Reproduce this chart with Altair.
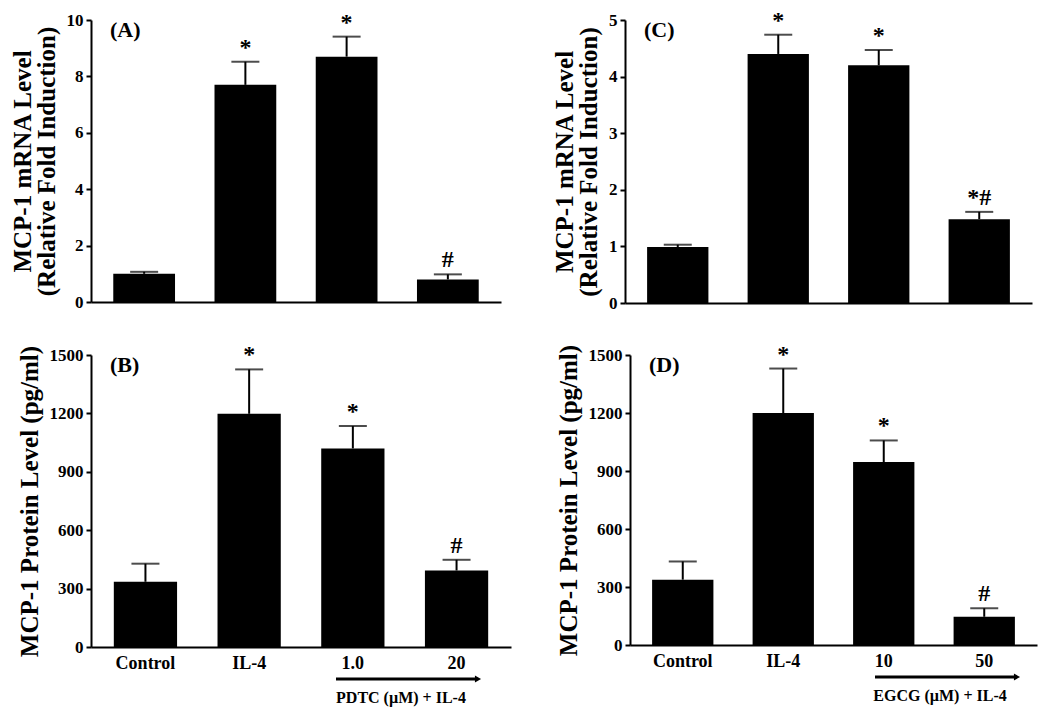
import altair as alt
import pandas as pd

FONT = "Liberation Serif"

# ---- data ----
cats_top = ["Control", "IL-4", "1.0", "20"]
cats_pdtc = ["Control", "IL-4", "1.0", "20"]
cats_egcg = ["Control", "IL-4", "10", "50"]

a_vals = [1.0, 7.7, 8.7, 0.8]
a_errs = [1.07, 8.52, 9.41, 0.98]
a_sig = ["", "*", "*", "#"]

c_vals = [0.99, 4.40, 4.20, 1.48]
c_errs = [1.03, 4.74, 4.47, 1.61]
c_sig = ["", "*", "*", "*#"]

b_vals = [335, 1198, 1020, 393]
b_errs = [428, 1426, 1135, 448]
b_sig = ["", "*", "*", "#"]

d_vals = [338, 1200, 946, 146]
d_errs = [432, 1430, 1058, 190]
d_sig = ["", "*", "*", "#"]

mrna_title = ["MCP-1 mRNA Level", "(Relative Fold Induction)"]
protein_title = "MCP-1 Protein Level (pg/ml)"


def panel(cats, vals, errs, sig, letter, ymax, ystep, ytitle, w, h,
          show_x=False, arrow_text=None):
    df = pd.DataFrame({"cat": cats, "val": vals, "err": errs, "sig": sig})
    xaxis = alt.Axis(labels=show_x, ticks=False, domain=True, title=None,
                     labelAngle=0, labelFont=FONT, labelFontSize=18,
                     labelFontWeight="bold", labelColor="black",
                     labelPadding=7, domainColor="black", domainWidth=2)
    x = alt.X("cat:N", sort=cats, axis=xaxis,
              scale=alt.Scale(paddingInner=0.39, paddingOuter=0.22))
    ticks = list(range(0, int(ymax) + 1, int(ystep)))
    yaxis = alt.Axis(values=ticks, format="d", title=ytitle, grid=False,
                     domainColor="black", domainWidth=2,
                     tickColor="black", tickWidth=2, tickSize=5,
                     labelFont=FONT, labelFontSize=17, labelFontWeight="bold",
                     labelColor="black", labelPadding=3,
                     titleFont=FONT, titleFontSize=25, titleFontWeight="bold",
                     titleColor="black", titlePadding=7, titleLineHeight=24)
    yscale = alt.Scale(domain=[0, ymax], nice=False)
    base = alt.Chart(df).encode(x=x)
    bars = base.mark_bar(color="black").encode(
        y=alt.Y("val:Q", scale=yscale, axis=yaxis))
    rule = base.mark_rule(color="black", strokeWidth=2).encode(
        y="val:Q", y2="err:Q")
    cap = base.mark_tick(color="black", size=28, thickness=2).encode(y="err:Q")
    stars = base.mark_text(font=FONT, fontSize=24, fontWeight="bold",
                           color="black", dy=-14).encode(y="err:Q", text="sig:N")
    lab = alt.Chart(pd.DataFrame({"t": [letter]})).mark_text(
        font=FONT, fontSize=22, fontWeight="bold", color="black",
        align="left", baseline="middle").encode(
        x=alt.value(19), y=alt.value(10), text="t:N")
    layers = [bars, rule, cap, stars, lab]
    if arrow_text:
        adf = pd.DataFrame({"t": [arrow_text]})
        arrow = alt.Chart(adf).mark_rule(color="black", strokeWidth=3).encode(
            x=alt.value(245), x2=alt.value(384), y=alt.value(h + 32))
        head = alt.Chart(adf).mark_point(shape="triangle-right", filled=True,
                                         color="black", size=50, opacity=1).encode(
            x=alt.value(387), y=alt.value(h + 32))
        txt = alt.Chart(adf).mark_text(font=FONT, fontSize=16, fontWeight="bold",
                                       color="black").encode(
            x=alt.value(310), y=alt.value(h + 51), text="t:N")
        layers += [arrow, head, txt]
    return alt.layer(*layers).properties(width=w, height=h)


A = panel(cats_top, a_vals, a_errs, a_sig, "(A)", 10, 2, mrna_title, 410, 282)
C = panel(cats_top, c_vals, c_errs, c_sig, "(C)", 5, 1, mrna_title, 407, 283)
B = panel(cats_pdtc, b_vals, b_errs, b_sig, "(B)", 1500, 300, protein_title,
          420, 292, show_x=True, arrow_text="PDTC (µM) + IL-4")
D = panel(cats_egcg, d_vals, d_errs, d_sig, "(D)", 1500, 300, protein_title,
          407, 290, show_x=True, arrow_text="EGCG (µM) + IL-4")

chart = alt.vconcat(
    alt.hconcat(A, C, spacing=51),
    alt.hconcat(B, D, spacing=44),
    spacing=31,
).configure_view(stroke=None).properties(
    background="white",
    padding={"left": 1, "top": 0, "right": 5, "bottom": 5})

chart.save("out.html", embed_options={"renderer": "svg", "actions": False})
